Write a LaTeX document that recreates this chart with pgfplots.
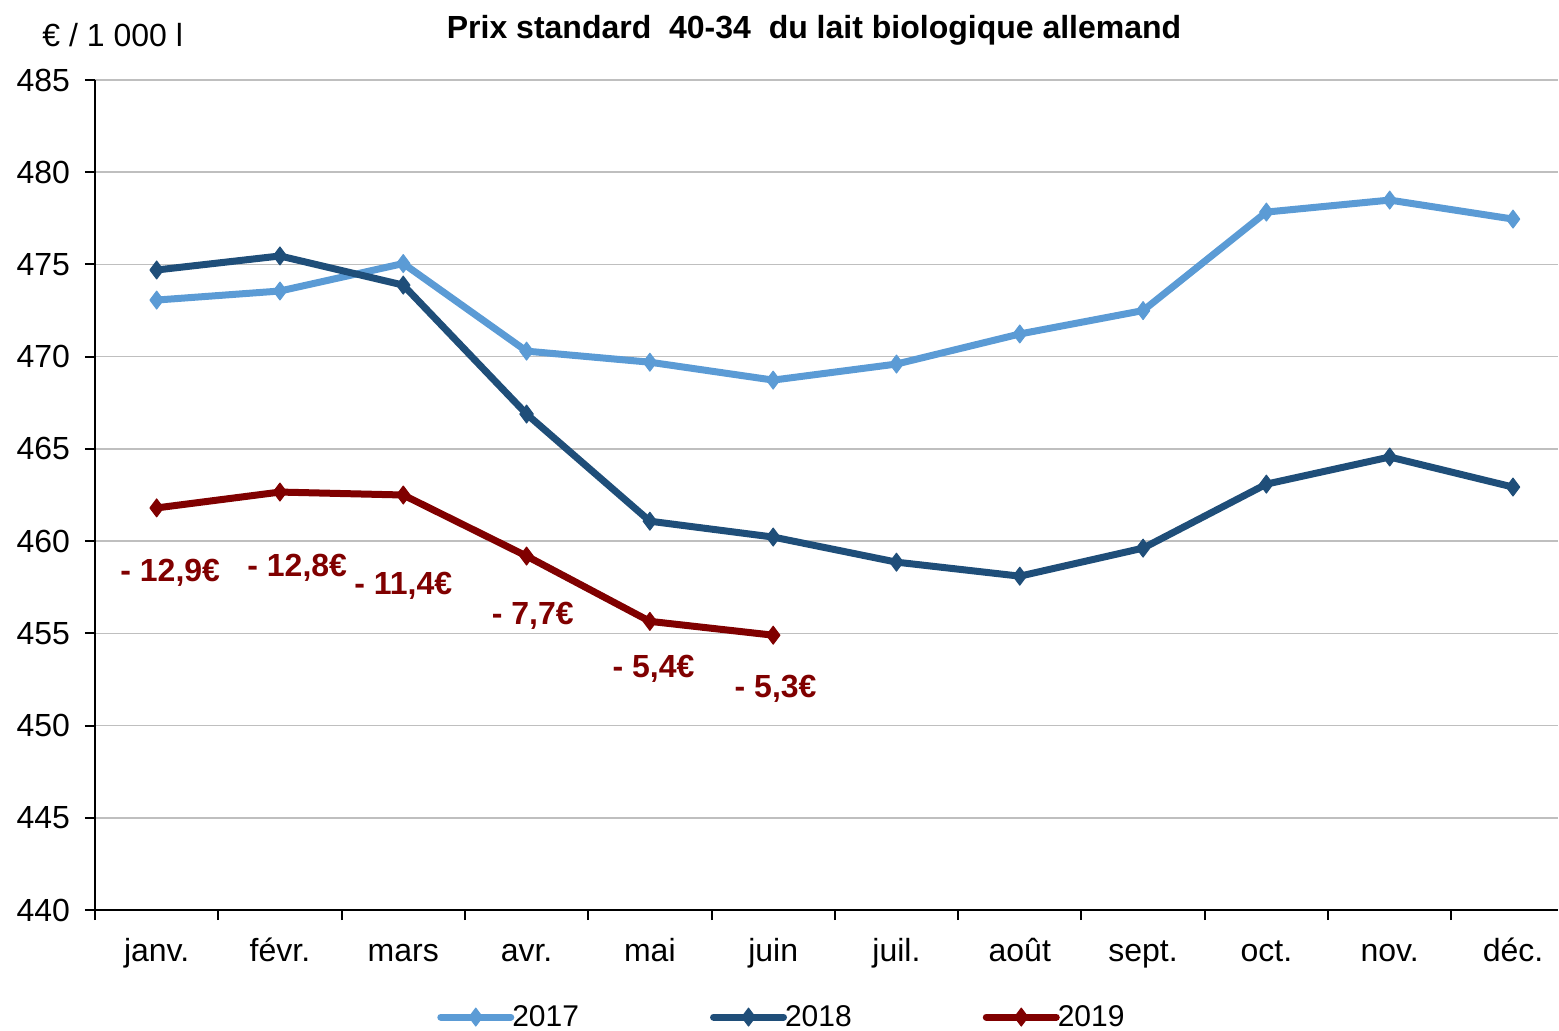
\documentclass[border=0pt]{standalone}
\usepackage{fontspec}
\setmainfont{Liberation Sans}
\usepackage{pgfplots}
\pgfplotsset{compat=1.18}
\definecolor{c17}{RGB}{91,155,213}
\definecolor{c18}{RGB}{31,78,121}
\definecolor{c19}{RGB}{128,0,0}
\definecolor{gridc}{RGB}{191,191,191}
\begin{document}
\begin{tikzpicture}
\useasboundingbox (-47.5pt,-60pt) rectangle (732pt,455pt);
\begin{axis}[
  scale only axis, width=731.5pt, height=415pt,
  clip=false,
  xmin=0, xmax=11.865, ymin=440, ymax=485,
  axis x line*=bottom, axis y line*=left,
  axis line style={black, line width=1pt},
  ytick={440,445,...,485},
  ymajorgrids, grid style={color=gridc, line width=0.8pt},
  xtick={0,...,11}, xticklabels={},
  extra x ticks={0.5,1.5,...,11.5},
  extra x tick labels={janv.,févr.,mars,avr.,mai,juin,juil.,août,sept.,oct.,nov.,déc.},
  extra x tick style={tick style={draw=none}, xticklabel style={anchor=base, yshift=-20.5pt}},
  tick align=outside, major tick length=5pt,
  tick style={black, line width=1pt},
  /pgf/number format/assume math mode=true,
  ticklabel style={font=\fontsize{16}{19}\selectfont},
  yticklabel style={xshift=-4pt},
  legend columns=3,
  legend style={at={(0.4702,-0.129)}, anchor=center, draw=none, fill=none,
    font=\fontsize{15}{18}\selectfont,
    /tikz/every even column/.append style={column sep=63.5pt},
    /tikz/every odd column/.append style={column sep=-3pt}},
  legend image code/.code={\draw[#1, mark repeat=2, mark phase=2] plot coordinates {(0pt,0pt) (17.5pt,0pt) (35pt,0pt)};},
  every axis plot/.append style={line width=3.5pt, line cap=round, line join=round, mark=diamond*, mark size=4.5pt, mark options={solid, line width=0.5pt}},
]
\addplot[color=c17] coordinates {
(0.5,473.07) (1.5,473.56) (2.5,475.05) (3.5,470.3) (4.5,469.7) (5.5,468.73)
(6.5,469.6) (7.5,471.23) (8.5,472.5) (9.5,477.84) (10.5,478.49) (11.5,477.46)};
\addlegendentry{2017}
\addplot[color=c18] coordinates {
(0.5,474.7) (1.5,475.46) (2.5,473.88) (3.5,466.89) (4.5,461.08) (5.5,460.22)
(6.5,458.86) (7.5,458.1) (8.5,459.62) (9.5,463.09) (10.5,464.56) (11.5,462.93)};
\addlegendentry{2018}
\addplot[color=c19] coordinates {
(0.5,461.8) (1.5,462.66) (2.5,462.5) (3.5,459.19) (4.5,455.65) (5.5,454.9)};
\addlegendentry{2019}
\begin{scope}[every node/.style={font=\bfseries\fontsize{16}{19}\selectfont, text=c19}]
\node at (axis cs:0.61,458.26) {- 12,9€};
\node at (axis cs:1.64,458.54) {- 12,8€};
\node at (axis cs:2.5,457.6) {- 11,4€};
\node at (axis cs:3.55,455.97) {- 7,7€};
\node at (axis cs:4.53,453.1) {- 5,4€};
\node at (axis cs:5.52,452.0) {- 5,3€};
\end{scope}
\node[font=\bfseries\fontsize{16}{19}\selectfont] at (axis description cs:0.4915,1.0603) {Prix standard \ 40-34 \ du lait biologique allemand};
\node[font=\fontsize{16}{19}\selectfont, anchor=west, inner sep=0pt] at (axis description cs:-0.03623,1.0542) {€ / 1 000 l};
\end{axis}
\end{tikzpicture}
\end{document}
